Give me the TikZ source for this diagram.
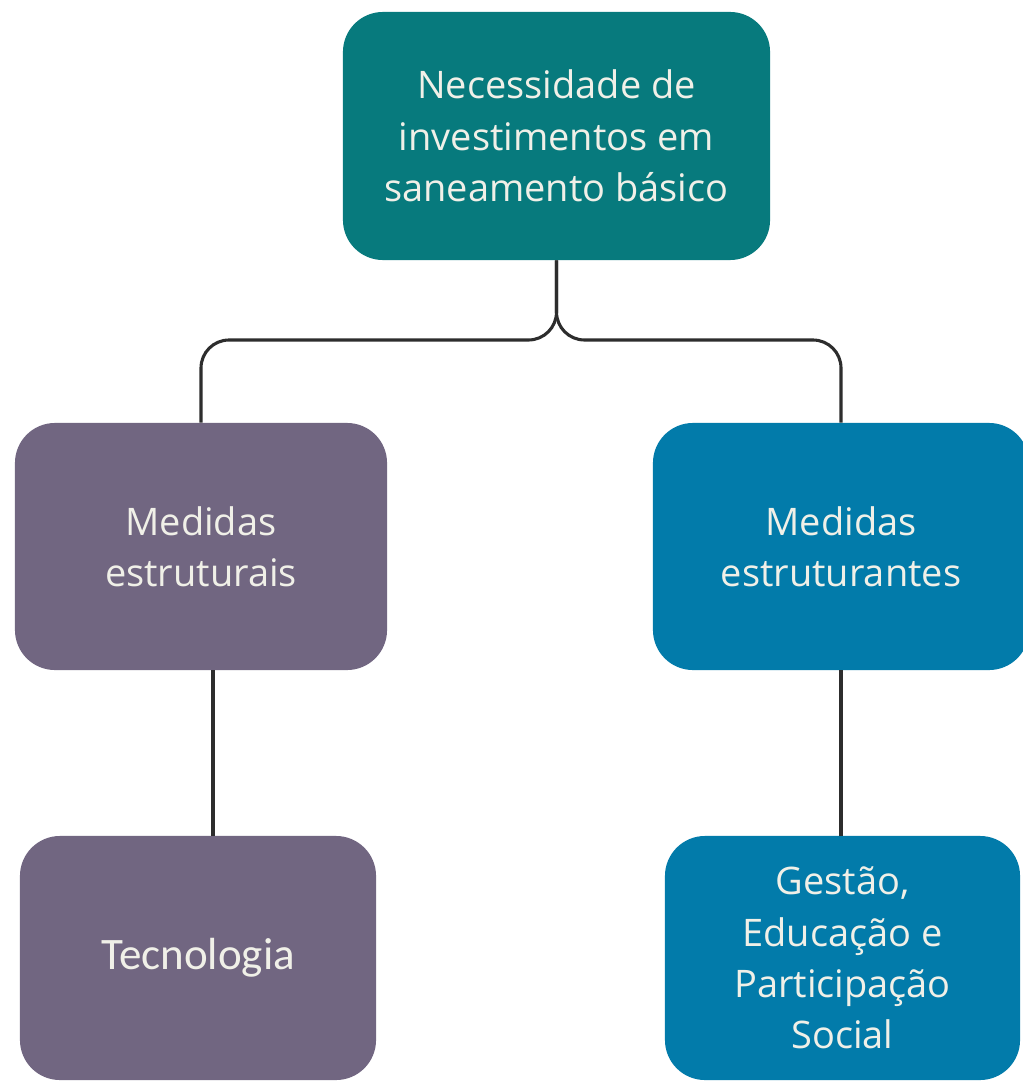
\documentclass[tikz,border=0pt]{standalone}
\usepackage{fontspec}
\setmainfont{Open Sans}
\newfontfamily\calibrifont{Carlito}
\definecolor{tealbox}{RGB}{7,122,125}
\definecolor{purplebox}{RGB}{113,102,129}
\definecolor{bluebox}{RGB}{2,123,170}
\definecolor{boxtext}{RGB}{240,240,232}
\definecolor{linegray}{RGB}{45,45,45}
\begin{document}
\begin{tikzpicture}[x=0.025cm,y=-0.025cm]
\tikzstyle{box}=[rounded corners=1cm, text=boxtext, align=center, inner sep=0pt, font=\fontsize{27}{36.5}\selectfont]
\tikzstyle{link}=[line width=2.2pt, draw=linegray, rounded corners=0.7cm]
\useasboundingbox (0,0) rectangle (1022,1083);
% boxes
\node [box, fill=tealbox, minimum width=10.675cm, minimum height=6.2cm] (need) at (556.5,136) {Necessidade de\\investimentos em\\saneamento básico};
\node [box, fill=purplebox, minimum width=9.3cm, minimum height=6.175cm] (estrutural) at (201,546.5) {Medidas\\estruturais};
\node [box, fill=bluebox, minimum width=9.4cm, minimum height=6.175cm] (estruturante) at (841,546.5) {Medidas\\estruturantes};
\node [box, fill=purplebox, minimum width=8.9cm, minimum height=6.1cm, font=\calibrifont\fontsize{32}{36}\selectfont] (tecno) at (198,958) {Tecnologia};
\node [box, fill=bluebox, minimum width=8.875cm, minimum height=6.1cm] (gestao) at (842.5,958) {Gestão,\\Educação e\\Participação\\Social};
% connectors
\coordinate (fork) at (556,340);
\draw [link] (need.south) -- (need.south |- fork) -| (estrutural.north);
\draw [link] (need.south) -- (need.south |- fork) -| (estruturante.north);
\draw [link] ([xshift=0.3cm]estrutural.south) -- ([xshift=0.3cm]estrutural.south |- tecno.north);
\draw [link] (estruturante.south) -- (estruturante.south |- gestao.north);
\end{tikzpicture}
\end{document}
